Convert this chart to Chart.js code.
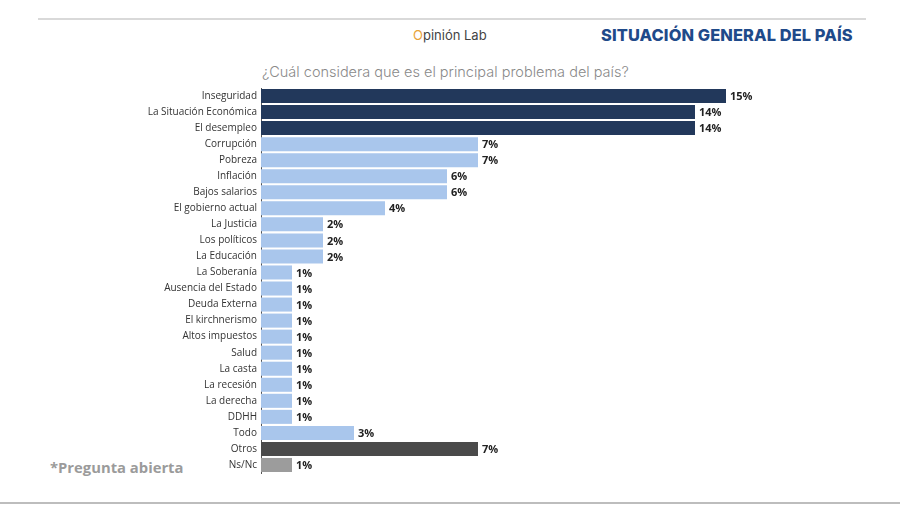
<!DOCTYPE html>
<html>
<head>
<meta charset="utf-8">
<script src="https://cdn.jsdelivr.net/npm/chart.js@4/dist/chart.umd.min.js"></script>
<style>
  body { margin: 0; width: 900px; height: 505px; background: #fff; position: relative; overflow: hidden; font-family: "Open Sans", sans-serif; }
  .topline { position: absolute; left: 38px; top: 18px; width: 828px; height: 2px; background: #d9d9d9; }
  .bottomline { position: absolute; left: 0; top: 502px; width: 900px; height: 2px; background: #bdbdbd; }
  .logo { position: absolute; left: 413px; top: 27px; font-family: "Inter", sans-serif; font-size: 13px; color: #444; }
  .logo span { color: #e8a33a; }
  .title { position: absolute; left: 601px; top: 25px; font-family: "Inter", sans-serif; font-weight: 800; font-size: 16.4px; color: #1f4a8a; letter-spacing: 0.1px; }
  .subtitle { position: absolute; left: 262px; top: 63px; font-family: "Inter", sans-serif; font-weight: 300; font-size: 14.5px; color: #8a8a8a; }
  .note { position: absolute; left: 50px; top: 457px; font-family: "Open Sans", sans-serif; font-weight: 700; font-size: 14.8px; color: #9b9b9b; }
  #wrap { position: absolute; left: 0; top: 78px; width: 900px; height: 405px; }
</style>
</head>
<body>
<div class="topline"></div>
<div class="logo"><span>O</span>pinión Lab</div>
<div class="title">SITUACIÓN GENERAL DEL PAÍS</div>
<div class="subtitle">¿Cuál considera que es el principal problema del país?</div>
<div class="note">*Pregunta abierta</div>
<div id="wrap"><canvas id="chart"></canvas></div>
<div class="bottomline"></div>
<script>
const categories = ['Inseguridad', 'La Situación Económica', 'El desempleo', 'Corrupción', 'Pobreza', 'Inflación',
  'Bajos salarios', 'El gobierno actual', 'La Justicia', 'Los políticos', 'La Educación', 'La Soberanía',
  'Ausencia del Estado', 'Deuda Externa', 'El kirchnerismo', 'Altos impuestos', 'Salud', 'La casta',
  'La recesión', 'La derecha', 'DDHH', 'Todo', 'Otros', 'Ns/Nc'];
const values = [15, 14, 14, 7, 7, 6, 6, 4, 2, 2, 2, 1, 1, 1, 1, 1, 1, 1, 1, 1, 1, 3, 7, 1];

const NAVY = '#22385b', LIGHT = '#a9c6ec', DARK = '#4a4a4a', GREY = '#9c9c9c';
const colors = values.map((v, i) => {
  if (i < 3) return NAVY;
  if (categories[i] === 'Otros') return DARK;
  if (categories[i] === 'Ns/Nc') return GREY;
  return LIGHT;
});

const valueLabels = {
  id: 'valueLabels',
  afterDatasetsDraw(chart) {
    const ctx = chart.ctx;
    const meta = chart.getDatasetMeta(0);
    ctx.save();
    ctx.font = 'bold 11px "Open Sans", sans-serif';
    ctx.fillStyle = '#222';
    ctx.textBaseline = 'middle';
    ctx.textAlign = 'left';
    meta.data.forEach((bar, i) => {
      ctx.fillText(values[i] + '%', bar.x + 4, bar.y + 1);
    });
    ctx.restore();
  }
};

new Chart(document.getElementById('chart'), {
  type: 'bar',
  data: {
    labels: categories,
    datasets: [{
      data: values,
      backgroundColor: colors,
      borderWidth: 0,
      barPercentage: 0.875,
      categoryPercentage: 1
    }]
  },
  options: {
    indexAxis: 'y',
    responsive: true,
    maintainAspectRatio: false,
    animation: false,
    layout: { padding: { left: 0, right: 19, top: 0, bottom: 0 } },
    plugins: { legend: { display: false }, tooltip: { enabled: false } },
    scales: {
      x: { display: false, min: 0, max: 20 },
      y: {
        afterFit(scale) { scale.width = 261; },
        grid: { display: false, drawTicks: false },
        border: { display: true, color: '#555', width: 1 },
        ticks: { color: '#333', font: { family: '"Open Sans", sans-serif', size: 10 }, padding: 4, autoSkip: false }
      }
    }
  },
  plugins: [valueLabels]
});
</script>
</body>
</html>
